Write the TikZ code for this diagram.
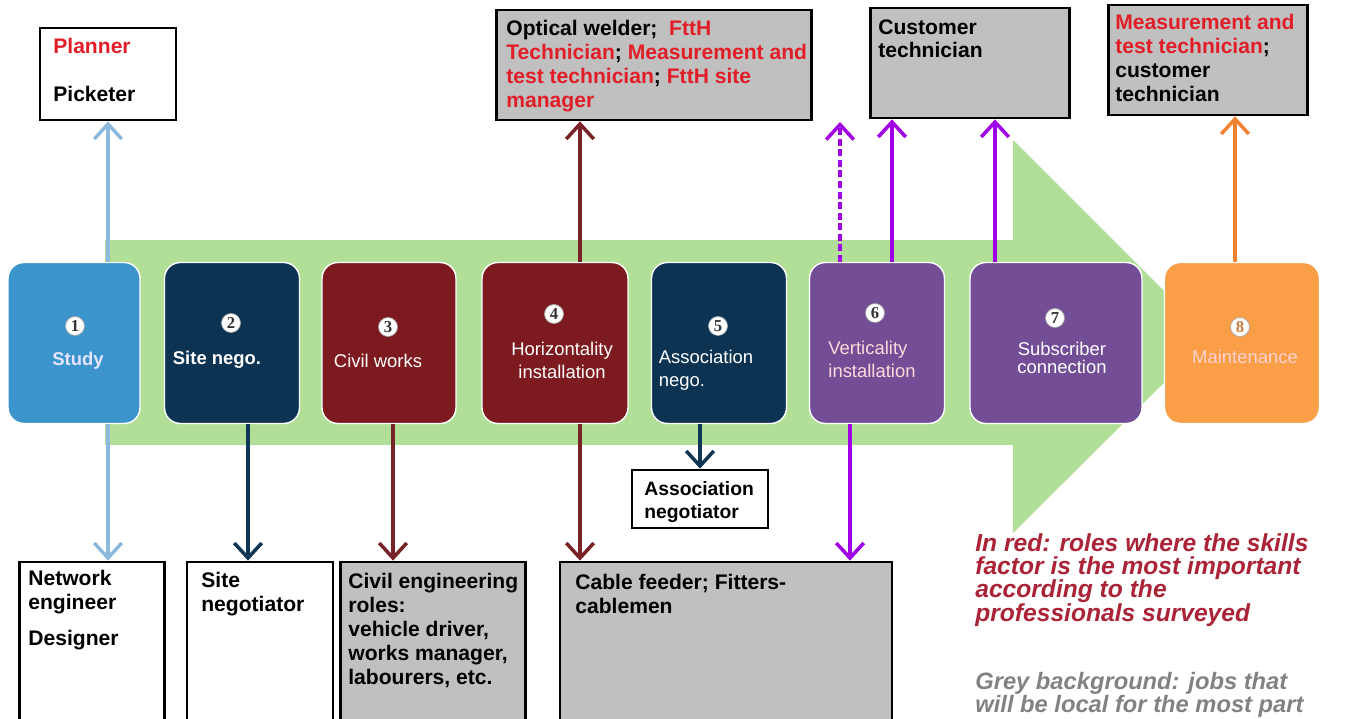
\documentclass[tikz,border=0pt]{standalone}
\usepackage{fontspec}
\setmainfont{Liberation Sans}
\newfontfamily\numfont{Liberation Serif}
\usepackage{tikz}
\usetikzlibrary{arrows.meta, positioning, calc}
\usepackage{xcolor}
\definecolor{arrowgreen}{RGB}{178,223,152}
\definecolor{studyblue}{RGB}{60,148,205}
\definecolor{stepnavy}{RGB}{12,52,82}
\definecolor{stepred}{RGB}{125,26,32}
\definecolor{steppurple}{RGB}{115,78,150}
\definecolor{steporange}{RGB}{250,158,72}
\definecolor{boxgrey}{RGB}{192,192,192}
\definecolor{rolered}{RGB}{225,30,40}
\definecolor{legendred}{RGB}{170,35,55}
\definecolor{legendgrey}{RGB}{130,130,130}
\definecolor{lineblue}{RGB}{140,185,220}
\definecolor{linenavy}{RGB}{15,55,85}
\definecolor{linered}{RGB}{120,35,40}
\definecolor{linepurple}{RGB}{160,0,230}
\definecolor{lineorange}{RGB}{240,130,50}
\tikzstyle{stepbox} = [rectangle, rounded corners=9pt, draw=white, line width=0.8pt, minimum height=3.22cm]
\tikzstyle{steptext} = [align=center, text=white, font=\fontsize{10.5}{13}\selectfont]
\tikzstyle{numcirc} = [circle, fill=white, draw=gray!70, inner sep=0pt, minimum size=0.38cm, font=\numfont\bfseries\fontsize{9.5}{9.5}\selectfont, text=black!80]
\tikzstyle{rolebox} = [rectangle, draw=black, line width=1.6pt, fill=white]
\tikzstyle{greybox} = [rolebox, fill=boxgrey]
\tikzstyle{roletext} = [anchor=north west, inner sep=0pt, align=left, font=\bfseries\fontsize{12}{13.6}\selectfont]
\tikzstyle{legendtext} = [anchor=north west, inner sep=0pt, align=left, font=\bfseries\itshape\fontsize{14}{13.3}\selectfont]
\tikzstyle{rolearrow} = [line width=2pt, -{Straight Barb[length=3mm, width=5.5mm]}]

\begin{document}
\begin{tikzpicture}[x=0.02cm, y=-0.02cm]
\useasboundingbox (0,0) rectangle (1350,719);

% Process arrow
\fill[arrowgreen] (105,240) rectangle (1013,445);
\fill[arrowgreen] (1013,140) -- (1210,337) -- (1013,533) -- cycle;

% Steps
\node[stepbox, fill=studyblue, minimum width=2.64cm] (s1) at (74,343) {};
\node[stepbox, fill=stepnavy, minimum width=2.7cm] (s2) at (232,343) {};
\node[stepbox, fill=stepred, minimum width=2.68cm] (s3) at (389,343) {};
\node[stepbox, fill=stepred, minimum width=2.92cm] (s4) at (555,343) {};
\node[stepbox, fill=stepnavy, minimum width=2.7cm] (s5) at (719,343) {};
\node[stepbox, fill=steppurple, minimum width=2.7cm] (s6) at (877,343) {};
\node[stepbox, fill=steppurple, minimum width=3.44cm] (s7) at (1056,343) {};
\node[stepbox, fill=steporange, minimum width=3.1cm] (s8) at (1242,343) {};

\node[numcirc] (n1) at (75,326) {1};
\node[numcirc] (n2) at (231,323) {2};
\node[numcirc] (n3) at (388,327) {3};
\node[numcirc] (n4) at (554,314) {4};
\node[numcirc] (n5) at (718,326) {5};
\node[numcirc] (n6) at (875,313) {6};
\node[numcirc] (n7) at (1055,318) {7};
\node[numcirc, text=steporange!80!black] (n8) at (1240,327) {8};

\node[steptext, text=blue!10, font=\bfseries\fontsize{10.5}{13}\selectfont] (t1) at (78,361) {Study};
\node[steptext, font=\bfseries\fontsize{10.5}{13}\selectfont] (t2) at (217,360) {Site nego.};
\node[steptext] (t3) at (378,361) {Civil works};
\node[steptext] (t4) at (562,360) {Horizontality\\installation};
\node[steptext, align=left] (t5) at (706,370) {Association\\nego.};
\node[steptext, align=left, text=pink!60!white] (t6) at (872,359) {Verticality\\installation};
\node[steptext, font=\fontsize{10.5}{10}\selectfont] (t7) at (1062,358) {Subscriber\\connection};
\node[steptext, text=pink!70!white] (t8) at (1245,357) {Maintenance};

% Upper roles
\node[rolebox, minimum width=2.72cm, minimum height=1.84cm] (planner) at (108,74) {};
\node[roletext] (plannertxt) at (53,38) {\textcolor{rolered}{Planner}\\[13.6pt]Picketer};

\node[greybox, minimum width=6.3cm, minimum height=2.2cm] (welder) at (654,65) {};
\node[roletext] (weldertxt) at (506,20) {Optical welder;\ \ \textcolor{rolered}{FttH}\\\textcolor{rolered}{Technician}; \textcolor{rolered}{Measurement and}\\\textcolor{rolered}{test technician}; \textcolor{rolered}{FttH site}\\\textcolor{rolered}{manager}};

\node[greybox, minimum width=3.98cm, minimum height=2.2cm] (custtech) at (970,63) {};
\node[roletext] (custtechtxt) at (878,19) {Customer\\technician};

\node[greybox, minimum width=3.98cm, minimum height=2.2cm] (meastech) at (1208,60) {};
\node[roletext] (meastechtxt) at (1115,14) {\textcolor{rolered}{Measurement and}\\\textcolor{rolered}{test technician};\\customer\\technician};

% Lower roles
\node[rolebox, minimum width=2.9cm, minimum height=3.6cm] (neteng) at (92,652) {};
\node[roletext] (netengtxt) at (28,570) {Network\\engineer\\[6.8pt]Designer};

\node[rolebox, minimum width=2.92cm, minimum height=3.6cm] (sitenego) at (260,652) {};
\node[roletext] (sitenegotxt) at (201,572) {Site\\negotiator};

\node[greybox, minimum width=3.7cm, minimum height=3.6cm] (civil) at (433,652) {};
\node[roletext] (civiltxt) at (348,573) {Civil engineering\\roles:\\vehicle driver,\\works manager,\\labourers, etc.};

\node[greybox, minimum width=6.64cm, minimum height=3.6cm] (cable) at (726,652) {};
\node[roletext] (cabletxt) at (575,574) {Cable feeder; Fitters-\\cablemen};

\node[rolebox, minimum width=2.72cm, minimum height=1.16cm] (assoc) at (700,499) {};
\node[roletext, font=\bfseries\fontsize{11}{13}\selectfont] (assoctxt) at (644,481) {Association\\negotiator};

\coordinate (dashend) at (840,122);

% Role arrows
\draw[rolearrow, lineblue] (s1.north -| planner.south) -- (planner.south);
\draw[rolearrow, lineblue] (s1.south -| planner.south) -- (neteng.north -| planner.south);
\draw[rolearrow, linenavy] ($(s2.south)+(16,0)$) -- ($(s2.south |- sitenego.north)+(16,0)$);
\draw[rolearrow, linered] ($(s3.south)+(4,0)$) -- ($(s3.south |- civil.north)+(4,0)$);
\draw[rolearrow, linered] ($(s4.north)+(25,0)$) -- ($(s4.north |- welder.south)+(25,0)$);
\draw[rolearrow, linered] ($(s4.south)+(25,0)$) -- ($(s4.south |- cable.north)+(25,0)$);
\draw[rolearrow, linenavy] (s5.south -| assoc.north) -- (assoc.north);
\draw[rolearrow, linepurple, dash pattern=on 4pt off 2pt] (s6.north -| dashend) -- (dashend);
\draw[rolearrow, linepurple] ($(s6.north)+(15,0)$) -- ($(s6.north |- custtech.south)+(15,0)$);
\draw[rolearrow, linepurple] ($(s6.south)+(-27,0)$) -- ($(s6.south |- cable.north)+(-27,0)$);
\draw[rolearrow, linepurple] ($(s7.north)+(-61,0)$) -- ($(s7.north |- custtech.south)+(-61,0)$);
\draw[rolearrow, lineorange] ($(s8.north)+(-7,0)$) -- ($(s8.north |- meastech.south)+(-7,0)$);

% Legend
\node[legendtext, text=legendred] (legred) at (975,533) {In red: roles where the skills\\factor is the most important\\according to the\\professionals surveyed};
\node[legendtext, text=legendgrey, font=\bfseries\itshape\fontsize{13.5}{13.3}\selectfont] (leggrey) at (975,672) {Grey background: jobs that\\will be local for the most part};

\end{tikzpicture}
\end{document}
